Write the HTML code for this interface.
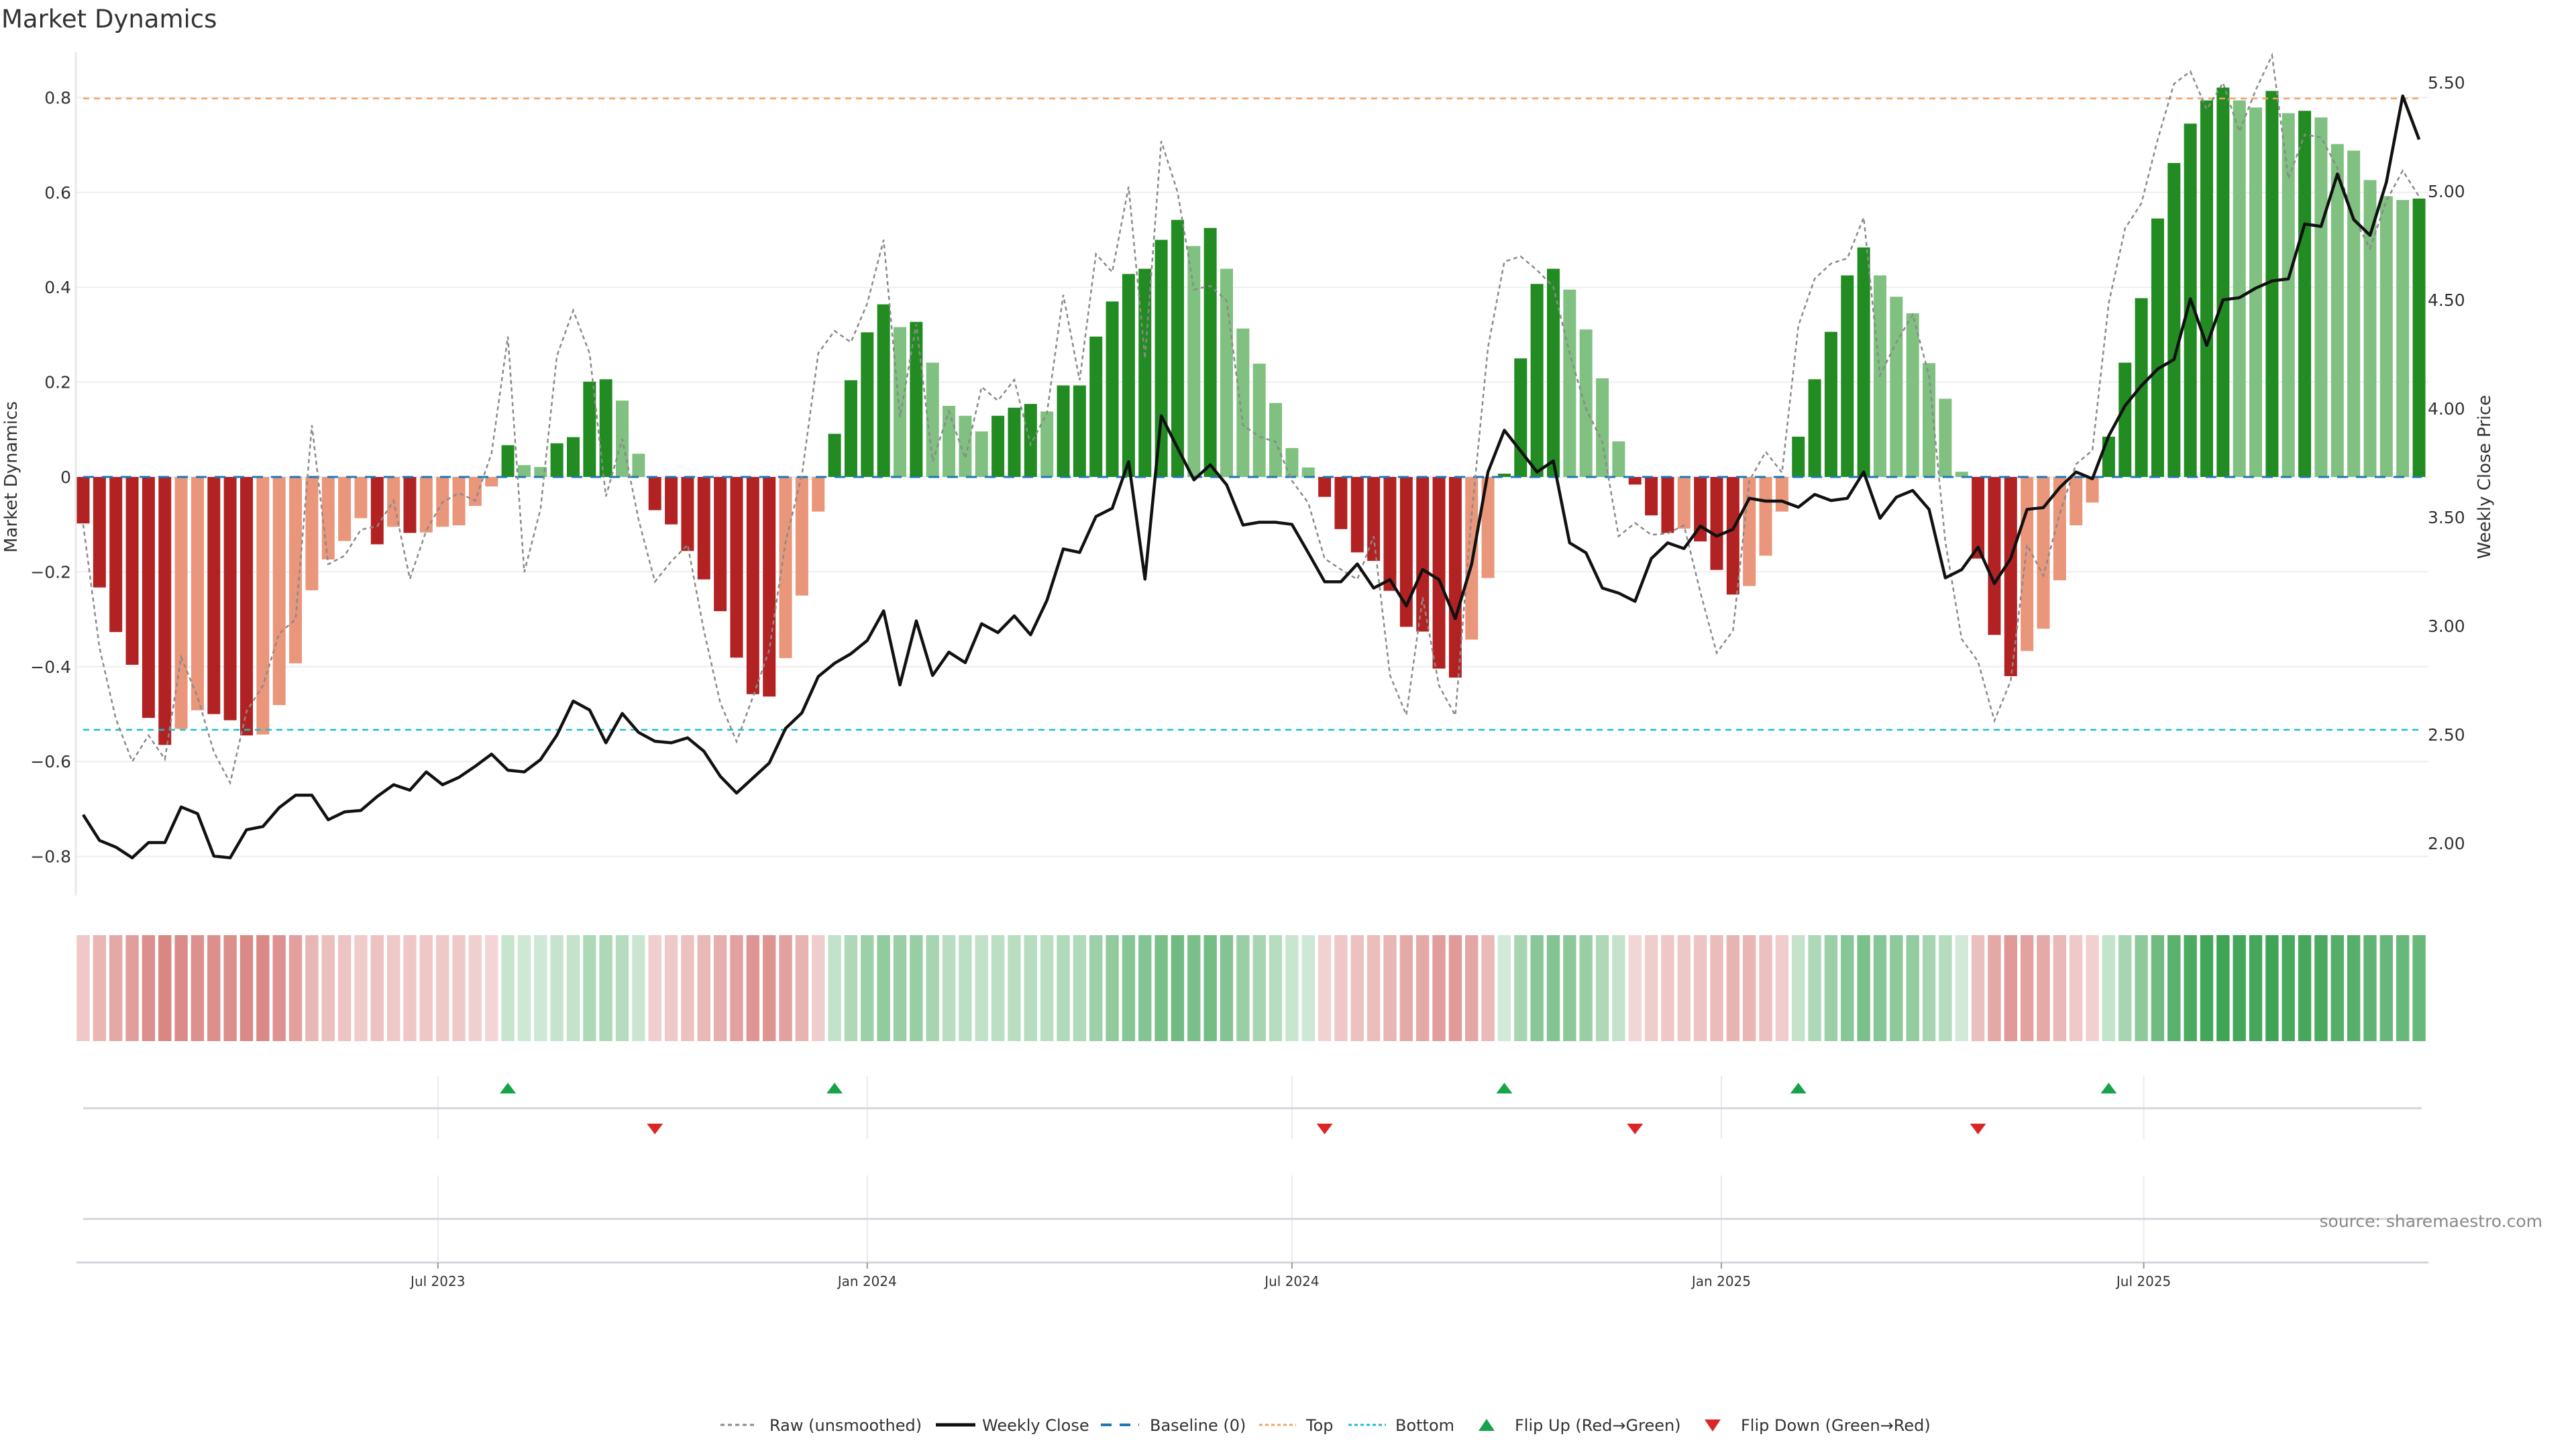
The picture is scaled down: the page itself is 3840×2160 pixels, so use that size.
<!DOCTYPE html>
<html><head><meta charset="utf-8"><style>
html,body{margin:0;padding:0;background:#fff}
svg{display:block}
text{font-family:"DejaVu Sans","Liberation Sans",sans-serif;fill:#333}
</style></head><body>
<svg id="chart" xmlns="http://www.w3.org/2000/svg" width="3840" height="2160" viewBox="0 0 3840 2160">
<text x="2" y="41" font-size="37">Market Dynamics</text>
<g id="grid"></g>
<g id="strip"></g>
<g id="flips"></g>
<g id="bars"></g>
<g id="lines"></g>
<g id="axes"></g>
<text x="25" y="711" font-size="26" text-anchor="middle" transform="rotate(-90 25 711)">Market Dynamics</text>
<text x="3712" y="711" font-size="26" text-anchor="middle" transform="rotate(-90 3712 711)">Weekly Close Price</text>
<text x="3790" y="1829" font-size="25" text-anchor="end" style="fill:#888">source: sharemaestro.com</text>
<g id="legend">
 <g><line x1="1074" y1="2124" x2="1129" y2="2124" stroke="#888" stroke-width="3" stroke-dasharray="6,5"/><text x="1147" y="2133" font-size="24">Raw (unsmoothed)</text></g>
 <g><line x1="1395" y1="2124" x2="1454" y2="2124" stroke="#111" stroke-width="5"/><text x="1464" y="2133" font-size="24">Weekly Close</text></g>
 <g><line x1="1641" y1="2124" x2="1698" y2="2124" stroke="#1f77b4" stroke-width="4" stroke-dasharray="16,12"/><text x="1714" y="2133" font-size="24">Baseline (0)</text></g>
 <g><line x1="1877" y1="2124" x2="1932" y2="2124" stroke="#f4a460" stroke-width="3" stroke-dasharray="5,4"/><text x="1947" y="2133" font-size="24">Top</text></g>
 <g><line x1="2010" y1="2124" x2="2066" y2="2124" stroke="#17becf" stroke-width="3" stroke-dasharray="5,4"/><text x="2080" y="2133" font-size="24">Bottom</text></g>
 <g><path d="M2204,2133 L2228,2133 L2216,2115 Z" fill="#16a34a"/><text x="2258" y="2133" font-size="24">Flip Up (Red→Green)</text></g>
 <g><path d="M2541,2116 L2565,2116 L2553,2134 Z" fill="#dc2626"/><text x="2595" y="2133" font-size="24">Flip Down (Green→Red)</text></g>
</g>
</svg>
<script>
const momentum = [-0.098,-0.233,-0.327,-0.396,-0.508,-0.565,-0.531,-0.492,-0.5,-0.513,-0.545,-0.543,-0.481,-0.393,-0.239,-0.174,-0.135,-0.087,-0.142,-0.105,-0.118,-0.117,-0.105,-0.102,-0.061,-0.02,0.067,0.025,0.021,0.071,0.084,0.201,0.206,0.161,0.049,-0.07,-0.1,-0.156,-0.216,-0.283,-0.381,-0.458,-0.463,-0.382,-0.25,-0.073,0.091,0.204,0.305,0.364,0.316,0.327,0.241,0.15,0.129,0.096,0.129,0.146,0.154,0.138,0.193,0.193,0.296,0.37,0.428,0.439,0.5,0.542,0.487,0.525,0.439,0.313,0.239,0.156,0.061,0.02,-0.042,-0.11,-0.159,-0.177,-0.24,-0.316,-0.326,-0.404,-0.423,-0.343,-0.213,0.007,0.25,0.407,0.439,0.395,0.311,0.208,0.075,-0.016,-0.081,-0.118,-0.109,-0.136,-0.196,-0.248,-0.23,-0.166,-0.073,0.085,0.206,0.306,0.425,0.484,0.425,0.38,0.345,0.24,0.165,0.011,-0.172,-0.333,-0.42,-0.367,-0.32,-0.218,-0.102,-0.054,0.085,0.241,0.377,0.545,0.662,0.745,0.794,0.821,0.794,0.779,0.814,0.767,0.772,0.758,0.702,0.688,0.626,0.592,0.584,0.587];
const rawValues = [-0.1,-0.36,-0.51,-0.6,-0.545,-0.595,-0.38,-0.464,-0.58,-0.645,-0.494,-0.44,-0.33,-0.3,0.109,-0.184,-0.166,-0.111,-0.104,-0.05,-0.215,-0.113,-0.053,-0.034,-0.05,0.05,0.296,-0.201,-0.067,0.255,0.351,0.261,-0.041,0.08,-0.09,-0.221,-0.178,-0.143,-0.324,-0.476,-0.558,-0.464,-0.365,-0.137,0.004,0.261,0.308,0.284,0.366,0.5,0.126,0.322,0.033,0.138,0.039,0.19,0.161,0.205,0.068,0.135,0.384,0.204,0.47,0.432,0.612,0.25,0.708,0.6,0.395,0.403,0.372,0.109,0.085,0.074,-0.008,-0.055,-0.172,-0.195,-0.216,-0.125,-0.418,-0.502,-0.254,-0.44,-0.503,-0.078,0.273,0.454,0.465,0.436,0.401,0.261,0.144,0.074,-0.125,-0.097,-0.122,-0.119,-0.102,-0.243,-0.371,-0.324,-0.008,0.053,0.009,0.319,0.418,0.45,0.461,0.547,0.214,0.284,0.342,0.214,-0.137,-0.342,-0.389,-0.514,-0.43,-0.143,-0.208,-0.078,0.027,0.056,0.366,0.524,0.577,0.712,0.829,0.855,0.775,0.831,0.728,0.816,0.889,0.629,0.722,0.716,0.652,0.547,0.482,0.582,0.646,0.591];
const closePrices = [2.131,2.013,1.982,1.933,2.003,2.003,2.167,2.136,1.941,1.933,2.062,2.077,2.164,2.221,2.221,2.108,2.144,2.151,2.215,2.269,2.244,2.328,2.269,2.303,2.354,2.41,2.336,2.328,2.385,2.497,2.654,2.613,2.462,2.597,2.51,2.469,2.462,2.485,2.423,2.308,2.231,2.3,2.369,2.528,2.6,2.767,2.828,2.872,2.933,3.069,2.728,3.023,2.772,2.879,2.831,3.01,2.969,3.046,2.959,3.118,3.354,3.338,3.503,3.541,3.756,3.215,3.967,3.818,3.672,3.741,3.649,3.464,3.477,3.477,3.467,3.336,3.203,3.203,3.285,3.174,3.213,3.092,3.259,3.213,3.033,3.285,3.708,3.9,3.805,3.708,3.759,3.382,3.336,3.174,3.151,3.113,3.31,3.382,3.356,3.459,3.413,3.444,3.587,3.574,3.574,3.546,3.605,3.577,3.587,3.708,3.495,3.592,3.623,3.536,3.221,3.259,3.362,3.195,3.31,3.536,3.544,3.636,3.708,3.677,3.874,4.013,4.105,4.182,4.226,4.505,4.29,4.5,4.51,4.554,4.587,4.597,4.849,4.838,5.079,4.869,4.797,5.041,5.438,5.238];
const leftTicks = [0.8,0.6,0.4,0.2,0,-0.2,-0.4,-0.6,-0.8];
const leftTickLabels = ["0.8","0.6","0.4","0.2","0","−0.2","−0.4","−0.6","−0.8"];
const rightTicks = [5.5,5.0,4.5,4.0,3.5,3.0,2.5,2.0];
const rightTickLabels = ["5.50","5.00","4.50","4.00","3.50","3.00","2.50","2.00"];
const dateTicks = ["2023-07-01","2024-01-01","2024-07-01","2025-01-01","2025-07-01"];
const dateTickLabels = ["Jul 2023","Jan 2024","Jul 2024","Jan 2025","Jul 2025"];
const startDate = "2023-01-30";
const topLevel = 0.798;
const bottomLevel = -0.533;

const NS = "http://www.w3.org/2000/svg";
const DAY = 86400000;
const t0 = Date.parse(startDate);
const PX_DAY = 24.35/7, X0 = 124, PL = 113, PR = 3620, PT = 78, PB = 1335;
function xDate(s){ return X0 + (Date.parse(s)-t0)/DAY*PX_DAY; }
function xIdx(i){ return X0 + i*7*PX_DAY; }
function yL(v){ return 711 - v*707; }
function yR(p){ return 1257 - (p-2)*324; }
function mk(tag, attrs, parent){ const e=document.createElementNS(NS,tag); for(const k in attrs) e.setAttribute(k,attrs[k]); parent.appendChild(e); return e; }
const G = id => document.getElementById(id);

const grid = G('grid');
leftTicks.forEach(v=>{ const l=mk('line',{x1:PL,x2:PR,y1:yL(v),y2:yL(v),stroke:'#eceef2','stroke-width':2},grid);

 });
dateTicks.forEach(d=>{ const x=xDate(d);
 const a=mk('line',{x1:x,x2:x,y1:1604,y2:1698,stroke:'#e8eaef','stroke-width':2},grid);
 
 
 const b=mk('line',{x1:x,x2:x,y1:1752,y2:1882,stroke:'#e8eaef','stroke-width':2},grid);
 
 
});

const axes = G('axes');
const sp=mk('line',{x1:PL,x2:PL,y1:PT,y2:PB,stroke:'#e6e8ee','stroke-width':3},axes);


leftTicks.forEach((v,i)=>{ const t=mk('text',{x:106,y:yL(v)+9,'font-size':25,'text-anchor':'end'},axes); t.textContent=leftTickLabels[i];

 });
rightTicks.forEach((v,i)=>{ const t=mk('text',{x:3619,y:yR(v)+9,'font-size':25},axes); t.textContent=rightTickLabels[i];

 });
const fl=mk('line',{x1:124,x2:3610,y1:1652,y2:1652,stroke:'#d4d6dc','stroke-width':3},axes);


const fl2=mk('line',{x1:124,x2:3620,y1:1817,y2:1817,stroke:'#d4d6dc','stroke-width':3},axes);


const xa=mk('line',{x1:114,x2:3620,y1:1882,y2:1882,stroke:'#d4d6dc','stroke-width':3},axes);


dateTicks.forEach((d,i)=>{ const x=xDate(d);
 const tk=mk('line',{x1:x,x2:x,y1:1882,y2:1891,stroke:'#999','stroke-width':2},axes);
 
 
 const t=mk('text',{x:x,y:1917,'font-size':20,'text-anchor':'middle'},axes); t.textContent=dateTickLabels[i];
 
 
});

const bars = G('bars');
momentum.forEach((v,i)=>{
 const prev = i>0 ? momentum[i-1] : 0;
 let c;
 if(v>=0) c = (v>=prev) ? '#228b22' : '#80c080';
 else c = (v<=prev) ? '#b22222' : '#e9967a';
 const y0=yL(0), y1=yL(v);
 const r=mk('rect',{x:xIdx(i)-9.5,y:Math.min(y0,y1),width:19,height:Math.max(1,Math.abs(y1-y0)),fill:c},bars);
 
 
});

const strip = G('strip');
momentum.forEach((v,i)=>{
 let fill;
 if(v>=0){ const a=Math.min(0.9,0.2+0.67*v/0.82); fill=`rgba(34,150,60,${a.toFixed(3)})`; }
 else { const a=Math.min(0.65,0.2+0.42*Math.abs(v)/0.565); fill=`rgba(195,60,55,${a.toFixed(3)})`; }
 const r=mk('rect',{x:xIdx(i)-9.7,y:1394,width:19.4,height:158,fill:fill},strip);
 
 
});

const lines = G('lines');
const bl=mk('line',{x1:124,x2:3610,y1:yL(0),y2:yL(0),stroke:'#1f77b4','stroke-width':3,'stroke-dasharray':'16,12'},lines);


const tl=mk('line',{x1:124,x2:3610,y1:yL(topLevel),y2:yL(topLevel),stroke:'#f4a460','stroke-width':2.5,'stroke-dasharray':'9,7'},lines);


const btl=mk('line',{x1:124,x2:3610,y1:yL(bottomLevel),y2:yL(bottomLevel),stroke:'#17becf','stroke-width':2.5,'stroke-dasharray':'9,7'},lines);


const rawPts = rawValues.map((v,i)=>xIdx(i).toFixed(1)+','+yL(v).toFixed(1)).join(' ');
const rp=mk('polyline',{points:rawPts,fill:'none',stroke:'#8a8a8a','stroke-width':2.5,'stroke-dasharray':'6,5'},lines);


const cPts = closePrices.map((p,i)=>xIdx(i).toFixed(1)+','+yR(p).toFixed(1)).join(' ');
const cp=mk('polyline',{points:cPts,fill:'none',stroke:'#111','stroke-width':4.5,'stroke-linejoin':'round'},lines);



const flips = G('flips');
for(let i=1;i<momentum.length;i++){
 const a=momentum[i-1], b=momentum[i], x=xIdx(i);
 if(a<0 && b>=0){ const p=mk('path',{d:`M${x-12},1630 L${x+12},1630 L${x},1614 Z`,fill:'#16a34a'},flips);
  
   }
 else if(a>=0 && b<0){ const p=mk('path',{d:`M${x-12},1675 L${x+12},1675 L${x},1691 Z`,fill:'#dc2626'},flips);
  
   }
}
</script>
</body></html>
